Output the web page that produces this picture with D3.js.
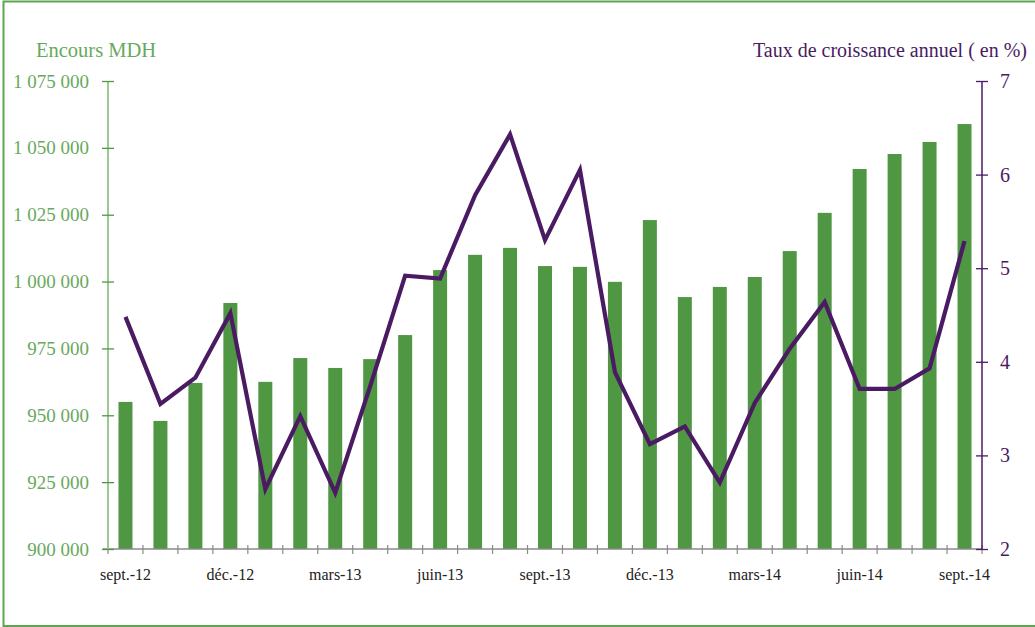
<!DOCTYPE html>
<html>
<head>
<meta charset="utf-8">
<script src="https://cdn.jsdelivr.net/npm/d3@7"></script>
<style>
  html, body { margin: 0; padding: 0; background: #fff; }
</style>
</head>
<body>
<svg id="chart" width="1035" height="627"></svg>
<script>
// months, Sept 2012 -> Sept 2014
const months = ["sept.-12","oct.-12","nov.-12","déc.-12","janv.-13","févr.-13","mars-13","avr.-13","mai-13",
  "juin-13","juil.-13","août-13","sept.-13","oct.-13","nov.-13","déc.-13","janv.-14","févr.-14","mars-14",
  "avr.-14","mai-14","juin-14","juil.-14","août-14","sept.-14"];

// encours (MDH) - bars
const encours = [955000, 947900, 962100, 992000, 962500, 971400, 967700, 971000, 980000,
  1004300, 1010000, 1012600, 1005800, 1005500, 999900, 1023000, 994200, 998000, 1001700,
  1011400, 1025700, 1042100, 1047700, 1052200, 1058900];

// taux de croissance annuel (%) - line
const taux = [4.48, 3.55, 3.83, 4.52, 2.64, 3.42, 2.60, 3.74, 4.92,
  4.89, 5.78, 6.43, 5.30, 6.05, 3.89, 3.12, 3.31, 2.71, 3.56,
  4.14, 4.64, 3.71, 3.71, 3.93, 5.29];

const leftTicks = [900000, 925000, 950000, 975000, 1000000, 1025000, 1050000, 1075000];
const rightTicks = [2, 3, 4, 5, 6, 7];
const shownLabels = ["sept.-12","déc.-12","mars-13","juin-13","sept.-13","déc.-13","mars-14","juin-14","sept.-14"];

const font = "Liberation Serif";
const green = "#4f9743", greenText = "#68a95d", greenAxis = "#9cc894";
const purple = "#4a1b62", grey = "#8a8a8a";

const svg = d3.select("#chart").attr("font-family", font);
const m = {left: 108, right: 982, top: 81, bottom: 549};

// frame
svg.append("path")
  .attr("d", "M1035,1.5 H3.5 V626 H1035")
  .attr("fill", "none").attr("stroke", "#5ea453").attr("stroke-width", 2);

const x = d3.scaleBand().domain(months).range([m.left, m.right])
  .paddingInner(0.6).paddingOuter(0.3);
const xEdge = d3.scaleLinear().domain([0, months.length]).range([m.left, m.right]);
const yL = d3.scaleLinear().domain([900000, 1075000]).range([m.bottom, m.top]);
const yR = d3.scaleLinear().domain([2, 7]).range([m.bottom, m.top]);

const fmt = d => d3.format(",")(d).replace(/,/g, " ");

// bars
svg.append("g").selectAll("rect")
  .data(encours).enter().append("rect")
  .attr("x", (d, i) => x(months[i]))
  .attr("width", x.bandwidth())
  .attr("y", d => yL(d))
  .attr("height", d => yL(900000) - yL(d))
  .attr("fill", green);

// x axis
const gx = svg.append("g");
gx.append("line")
  .attr("x1", m.left - 5).attr("x2", m.right)
  .attr("y1", m.bottom).attr("y2", m.bottom)
  .attr("stroke", grey).attr("stroke-width", 1.3);
gx.selectAll("line.tk").data(d3.range(months.length + 1)).enter().append("line")
  .attr("class", "tk")
  .attr("x1", d => xEdge(d)).attr("x2", d => xEdge(d))
  .attr("y1", m.bottom - 4).attr("y2", m.bottom + 5)
  .attr("stroke", grey).attr("stroke-width", 1.2);
gx.selectAll("text").data(shownLabels).enter().append("text")
  .attr("x", d => x(d) + x.bandwidth() / 2)
  .attr("y", 580)
  .attr("text-anchor", "middle")
  .attr("font-family", font)
  .attr("font-size", 16)
  .attr("fill", "#222")
  .text(d => d);

// left axis
const gl = svg.append("g").attr("transform", `translate(${m.left},0)`)
  .call(d3.axisLeft(yL).tickValues(leftTicks).tickFormat(fmt).tickSize(6).tickPadding(10))
  .attr("font-family", font);
gl.select(".domain").attr("stroke", greenAxis).attr("stroke-width", 2).attr("d", `M0,${m.bottom}V${m.top}`);
gl.selectAll(".tick line").attr("x1", -6).attr("x2", 6).attr("stroke", green).attr("stroke-width", 1.3);
gl.selectAll(".tick text").attr("font-size", 19).attr("fill", greenText).attr("dx", -3);

// right axis
const gr = svg.append("g").attr("transform", `translate(${m.right},0)`)
  .call(d3.axisRight(yR).tickValues(rightTicks).tickFormat(d3.format("d")).tickSize(6).tickPadding(12))
  .attr("font-family", font);
gr.select(".domain").attr("stroke", purple).attr("stroke-width", 1.5).attr("d", `M0,${m.bottom}V${m.top}`);
gr.selectAll(".tick line").attr("x1", -6).attr("x2", 6).attr("stroke", purple).attr("stroke-width", 1.3);
gr.selectAll(".tick text").attr("font-size", 20).attr("fill", purple);

// line
const line = d3.line()
  .x((d, i) => x(months[i]) + x.bandwidth() / 2)
  .y(d => yR(d));
svg.append("path").datum(taux)
  .attr("d", line)
  .attr("fill", "none")
  .attr("stroke", purple)
  .attr("stroke-width", 4.2)
  .attr("stroke-linejoin", "miter");

// axis titles
svg.append("text").attr("x", 36).attr("y", 57)
  .attr("font-family", font)
  .attr("font-size", 20.5).attr("fill", greenText).text("Encours MDH");
svg.append("text").attr("x", 1027).attr("y", 57).attr("text-anchor", "end")
  .attr("font-family", font)
  .attr("font-size", 20).attr("fill", purple).text("Taux de croissance annuel ( en %)");
</script>
</body>
</html>
